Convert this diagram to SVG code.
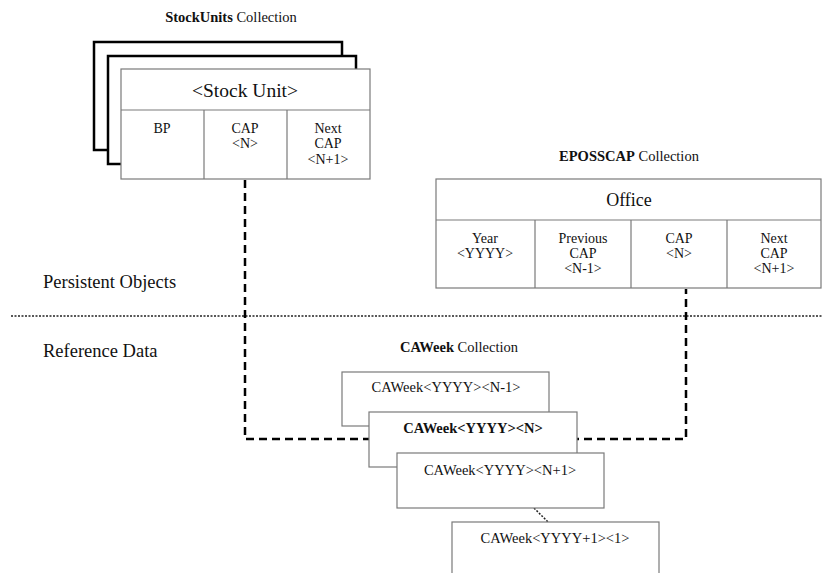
<svg xmlns="http://www.w3.org/2000/svg" width="822" height="573" viewBox="0 0 822 573" font-family="'Liberation Serif', 'DejaVu Serif', serif">
  <style>
    text { fill: #111; }
    .title { font-size: 14.5px; text-anchor: middle; }
    .b { font-weight: bold; }
    .head { font-size: 19.5px; text-anchor: middle; }
    .cell { font-size: 14px; text-anchor: middle; }
    .layer { font-size: 18.5px; }
    .wk { font-size: 14.5px; text-anchor: middle; }
    .box { fill: #fff; stroke: #7a7a7a; stroke-width: 1.2; }
    .stack { fill: #fff; stroke: #000; stroke-width: 2.5; }
    .div { stroke: #7a7a7a; stroke-width: 1.2; fill: none; }
    .link { fill: none; stroke: #000; stroke-width: 2.5; stroke-dasharray: 8 5; }
    .dots { fill: none; stroke: #222; stroke-width: 1.5; stroke-dasharray: 2 1.5; }
  </style>

  <!-- layer separator -->
  <g id="separator">
    <line x1="11" y1="316" x2="822" y2="316" class="dots"/>
    <text class="layer" x="43" y="288">Persistent Objects</text>
    <text class="layer" x="43" y="357">Reference Data</text>
  </g>

  <!-- connectors -->
  <g id="connectors">
    <path class="link" d="M245,180 V439 H686 V289"/>
    <path class="dots" d="M534,508 L548,522"/>
  </g>

  <!-- StockUnits collection -->
  <g id="stockunits">
    <text class="title" x="231" y="22"><tspan class="b">StockUnits</tspan> Collection</text>
    <rect class="stack" x="94" y="42" width="248" height="108"/>
    <rect class="stack" x="108" y="56" width="248" height="108"/>
    <rect class="box" x="121" y="69" width="249" height="110"/>
    <line class="div" x1="121" y1="110" x2="370" y2="110"/>
    <line class="div" x1="204" y1="110" x2="204" y2="179"/>
    <line class="div" x1="287" y1="110" x2="287" y2="179"/>
    <text class="head" x="245" y="97">&lt;Stock Unit&gt;</text>
    <text class="cell" x="162" y="133">BP</text>
    <text class="cell" x="245" y="133">CAP</text>
    <text class="cell" x="245" y="148">&lt;N&gt;</text>
    <text class="cell" x="328" y="133">Next</text>
    <text class="cell" x="328" y="148">CAP</text>
    <text class="cell" x="328" y="164">&lt;N+1&gt;</text>
  </g>

  <!-- EPOSSCAP collection -->
  <g id="eposscap">
    <text class="title" x="629" y="161"><tspan class="b">EPOSSCAP</tspan> Collection</text>
    <rect class="box" x="436" y="179" width="385" height="109"/>
    <line class="div" x1="436" y1="220" x2="821" y2="220"/>
    <line class="div" x1="535" y1="220" x2="535" y2="288"/>
    <line class="div" x1="631" y1="220" x2="631" y2="288"/>
    <line class="div" x1="727" y1="220" x2="727" y2="288"/>
    <text class="head" x="629" y="206" style="font-size:18px">Office</text>
    <text class="cell" x="485" y="243">Year</text>
    <text class="cell" x="485" y="258">&lt;YYYY&gt;</text>
    <text class="cell" x="583" y="243">Previous</text>
    <text class="cell" x="583" y="258">CAP</text>
    <text class="cell" x="583" y="273">&lt;N-1&gt;</text>
    <text class="cell" x="679" y="243">CAP</text>
    <text class="cell" x="679" y="258">&lt;N&gt;</text>
    <text class="cell" x="774" y="243">Next</text>
    <text class="cell" x="774" y="258">CAP</text>
    <text class="cell" x="774" y="273">&lt;N+1&gt;</text>
  </g>

  <!-- CAWeek collection -->
  <text class="title" x="459" y="352"><tspan class="b">CAWeek</tspan> Collection</text>
  <g id="caweek-prev">
    <rect class="box" x="342" y="372" width="207" height="54"/>
    <text class="wk" x="446" y="392">CAWeek&lt;YYYY&gt;&lt;N-1&gt;</text>
  </g>
  <g id="caweek-cur">
    <rect class="box" x="369" y="412" width="208" height="55"/>
    <text class="wk b" x="473" y="433">CAWeek&lt;YYYY&gt;&lt;N&gt;</text>
  </g>
  <g id="caweek-next">
    <rect class="box" x="397" y="453" width="207" height="55"/>
    <text class="wk" x="500" y="475">CAWeek&lt;YYYY&gt;&lt;N+1&gt;</text>
  </g>
  <g id="caweek-nextyear">
    <rect class="box" x="452" y="522" width="207" height="60"/>
    <text class="wk" x="555" y="543">CAWeek&lt;YYYY+1&gt;&lt;1&gt;</text>
  </g>
</svg>
